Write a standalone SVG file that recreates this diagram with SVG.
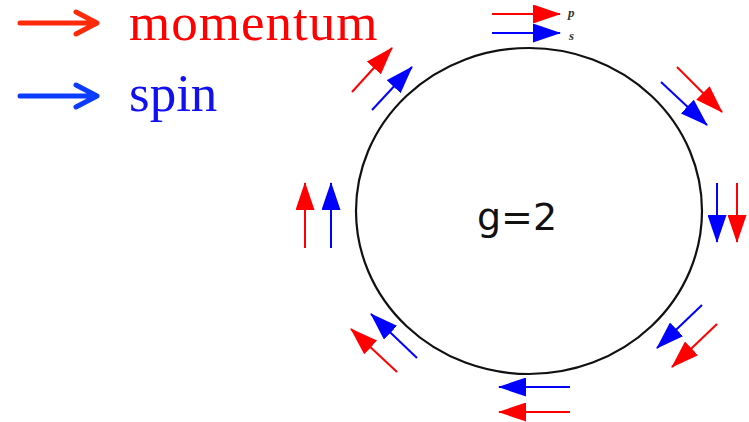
<svg xmlns="http://www.w3.org/2000/svg" width="749" height="422" viewBox="0 0 749 422">
<style>
.leg{fill:none;stroke-width:5;stroke-linecap:round;stroke-linejoin:round}
.lt{font-family:"Liberation Serif","Times New Roman",serif;font-size:53px}
.r{stroke:#ff0000;stroke-width:2;fill:none}
.b{stroke:#0000ff;stroke-width:2;fill:none}
.ra{marker-end:url(#hr)}
.ba{marker-end:url(#hb)}
.ps{font-family:"Liberation Serif",serif;font-style:italic;font-weight:bold;font-size:13px;fill:#333}
</style>
<defs>
<marker id="hr" viewBox="0 0 28 19" refX="27" refY="9.5" markerWidth="28" markerHeight="19" markerUnits="userSpaceOnUse" orient="auto"><path d="M0,0 L28,9.5 L0,19 Z" fill="#ff0000"/></marker>
<marker id="hb" viewBox="0 0 28 19" refX="27" refY="9.5" markerWidth="28" markerHeight="19" markerUnits="userSpaceOnUse" orient="auto"><path d="M0,0 L28,9.5 L0,19 Z" fill="#0000ff"/></marker>
</defs>
<rect width="749" height="422" fill="#ffffff"/>
<g id="legend">
<g id="legend-momentum">
<path class="leg" d="M20,23 H96 M76,12 L97,23 L76,34" stroke="#ff2a0a"/>
<text class="lt" x="129" y="40" fill="#ff0000" letter-spacing="1">momentum</text>
</g>
<g id="legend-spin">
<path class="leg" d="M20,96 H96 M76,85 L97,96 L76,107" stroke="#0a3cff"/>
<text class="lt" x="129" y="111" fill="#1010f0">spin</text>
</g>
</g>
<g id="ring">
<ellipse cx="529" cy="211" rx="173" ry="163" fill="none" stroke="#111" stroke-width="2.2"/>
<text x="517" y="230" text-anchor="middle" font-family="DejaVu Sans, Verdana, sans-serif" font-size="38" fill="#111">g=2</text>
</g>
<g id="connectors">
<g id="top">
<line class="r ra" x1="492" y1="14" x2="560" y2="14"/>
<line class="b ba" x1="492" y1="33" x2="560" y2="33"/>
<text class="ps" x="568" y="17">p</text>
<text class="ps" x="569" y="40">s</text>
</g>
<g id="top-right">
<line class="r ra" x1="677" y1="67" x2="722" y2="112"/>
<line class="b ba" x1="661" y1="82" x2="707" y2="125"/>
</g>
<g id="right">
<line class="b ba" x1="717" y1="183" x2="717" y2="242"/>
<line class="r ra" x1="737" y1="183" x2="737" y2="242"/>
</g>
<g id="bottom-right">
<line class="b ba" x1="702" y1="305" x2="657" y2="348"/>
<line class="r ra" x1="717" y1="324" x2="672" y2="367"/>
</g>
<g id="bottom">
<line class="b ba" x1="570" y1="387" x2="499" y2="387"/>
<line class="r ra" x1="570" y1="412" x2="499" y2="412"/>
</g>
<g id="bottom-left">
<line class="b ba" x1="417" y1="358" x2="371" y2="314"/>
<line class="r ra" x1="397" y1="372" x2="351" y2="329"/>
</g>
<g id="left">
<line class="r ra" x1="305" y1="248" x2="305" y2="183"/>
<line class="b ba" x1="331" y1="248" x2="331" y2="183"/>
</g>
<g id="top-left">
<line class="r ra" x1="352" y1="92" x2="392" y2="48"/>
<line class="b ba" x1="372" y1="110" x2="412" y2="67"/>
</g>
</g>
</svg>
